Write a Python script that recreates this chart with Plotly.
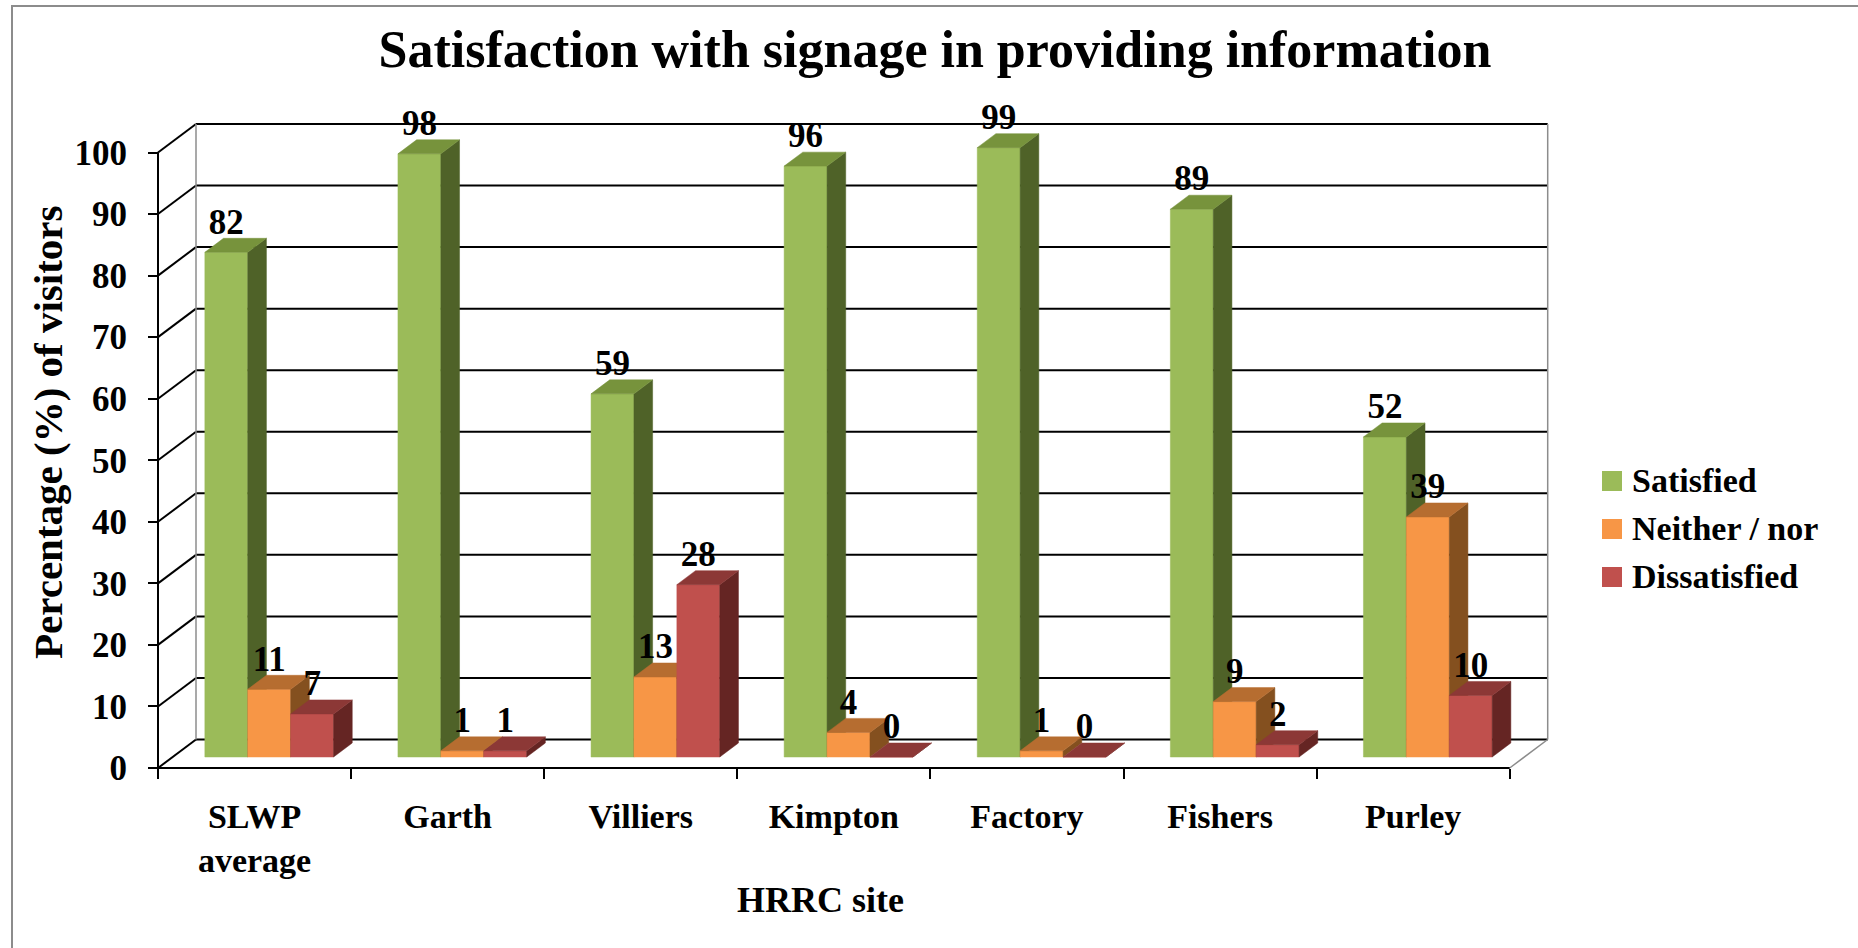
import plotly.graph_objects as go

# ---- data -------------------------------------------------------------
sites = ["SLWP<br>average", "Garth", "Villiers", "Kimpton", "Factory", "Fishers", "Purley"]
satisfied = [82, 98, 59, 96, 99, 89, 52]
neither_nor = [11, 1, 13, 4, 1, 9, 39]
dissatisfied = [7, 1, 28, 0, 0, 2, 10]
series_names = ["Satisfied", "Neither / nor", "Dissatisfied"]
y_tick_values = list(range(0, 101, 10))

# ---- styling ----------------------------------------------------------
FONT = "Liberation Serif"
face_colors = [  # front, top, side
    ("#9BBB59", "#77933C", "#4F6228"),
    ("#F79646", "#B66D30", "#84501F"),
    ("#C0504D", "#8C3836", "#652523"),
]

# ---- page geometry (pixels) -------------------------------------------
W, H = 1858, 948
PLOT_L, PLOT_R, PLOT_T, PLOT_B = 140, 1560, 110, 790
AXIS_X_PX, FLOOR_Y_PX = 158, 768     # front vertical axis / front floor edge
CAT_PX = 193.1                       # width of one category slot
UNIT_PX = 6.155                      # pixels per percentage point
LABEL_DROP_PX = 4                    # value labels sit this much lower than plotly's default

x_range = [-0.5 - (AXIS_X_PX - PLOT_L) / CAT_PX, -0.5 + (PLOT_R - AXIS_X_PX) / CAT_PX]
y_range = [-(PLOT_B - FLOOR_Y_PX) / UNIT_PX, (FLOOR_Y_PX - PLOT_T) / UNIT_PX]

# oblique depth of the floor/back wall, in data units
WALL_DX = 38 / CAT_PX
WALL_DY = 28.5 / UNIT_PX
# bars sit between these fractions of the wall depth
F0, F1 = 0.386, 0.877
BAR_W = 1 / 4.5                      # three bars + 150% gap per slot

n = len(sites)
left, right = -0.5, n - 0.5


def px_x(p):
    return (p - PLOT_L) / (PLOT_R - PLOT_L)


def px_y(p):
    return (PLOT_B - p) / (PLOT_B - PLOT_T)


def seg_trace(segs, color, width):
    xs, ys = [], []
    for (xa, ya), (xb, yb) in segs:
        xs += [xa, xb, None]
        ys += [ya, yb, None]
    return go.Scatter(x=xs, y=ys, mode="lines", line=dict(color=color, width=width),
                      hoverinfo="skip", showlegend=False)


fig = go.Figure()

# back wall grid and the diagonals that join it to the front axis
grid = [((left + WALL_DX, v + WALL_DY), (right + WALL_DX, v + WALL_DY)) for v in y_tick_values]
diag = [((left, v), (left + WALL_DX, v + WALL_DY)) for v in y_tick_values]
fig.add_trace(seg_trace(grid + diag, "#000000", 2))
# grey wall edges
edges = [
    ((left + WALL_DX, WALL_DY), (left + WALL_DX, 100 + WALL_DY)),
    ((right + WALL_DX, WALL_DY), (right + WALL_DX, 100 + WALL_DY)),
    ((right, 0), (right + WALL_DX, WALL_DY)),
]
fig.add_trace(seg_trace(edges, "#8C8C8C", 1.5))
# front axis and floor edge
fig.add_trace(seg_trace([((left, 0), (left, 100)), ((left, 0), (right, 0))], "#000000", 2))

# ---- 3-D bars -----------------------------------------------------------
ddx = WALL_DX * (F1 - F0)
ddy = WALL_DY * (F1 - F0)
all_series = [satisfied, neither_nor, dissatisfied]
label_traces = []
for j, values in enumerate(all_series):
    polys = {"front": ([], []), "side": ([], []), "top": ([], [])}
    lx, ly = [], []
    for i, v in enumerate(values):
        x0 = i - 1.5 * BAR_W + j * BAR_W + WALL_DX * F0
        x1 = x0 + BAR_W
        b = WALL_DY * F0
        t = b + v
        faces = {
            "front": [(x0, b), (x1, b), (x1, t), (x0, t)],
            "side": [(x1, b), (x1 + ddx, b + ddy), (x1 + ddx, t + ddy), (x1, t)],
            "top": [(x0, t), (x1, t), (x1 + ddx, t + ddy), (x0 + ddx, t + ddy)],
        }
        for k, pts in faces.items():
            xs, ys = polys[k]
            xs += [p[0] for p in pts] + [pts[0][0], None]
            ys += [p[1] for p in pts] + [pts[0][1], None]
        lx.append(x0 + BAR_W / 2)
        ly.append(t + ddy - LABEL_DROP_PX / UNIT_PX)
    front_c, top_c, side_c = face_colors[j]
    for k, col in (("front", front_c), ("side", side_c), ("top", top_c)):
        xs, ys = polys[k]
        fig.add_trace(go.Scatter(x=xs, y=ys, mode="lines", fill="toself", fillcolor=col,
                                 line=dict(color=col, width=0.5), name=series_names[j],
                                 hoverinfo="skip", showlegend=False))
    label_traces.append(go.Scatter(
        x=lx, y=ly, mode="text", text=[str(v) for v in values], textposition="top center",
        textfont=dict(family=FONT, size=35, color="#000000", weight="bold"),
        hoverinfo="skip", showlegend=False, cliponaxis=False))

for tr in label_traces:
    fig.add_trace(tr)

# ---- legend ---------------------------------------------------------------
shapes = [dict(type="rect", xref="paper", yref="paper",
               x0=px_x(12), y0=px_y(6), x1=px_x(1900), y1=px_y(1000),
               line=dict(color="#8C8C8C", width=2), fillcolor="rgba(0,0,0,0)", layer="below")]
annotations = []
for j, name in enumerate(series_names):
    cy = 481 + 48 * j
    shapes.append(dict(type="rect", xref="paper", yref="paper",
                       x0=px_x(1602), x1=px_x(1622), y0=px_y(cy + 10), y1=px_y(cy - 10),
                       line=dict(width=0), fillcolor=face_colors[j][0]))
    annotations.append(dict(xref="paper", yref="paper", x=px_x(1630), y=px_y(cy - 1),
                            xanchor="left", yanchor="middle", showarrow=False, text=name,
                            font=dict(family=FONT, size=34, color="#000000", weight="bold")))

# axis titles
annotations.append(dict(xref="paper", yref="paper", x=px_x(48), y=px_y(432), textangle=-90,
                        xanchor="center", yanchor="middle", showarrow=False,
                        text="Percentage (%) of visitors",
                        font=dict(family=FONT, size=41, color="#000000", weight="bold")))
annotations.append(dict(xref="paper", yref="paper", x=px_x(820), y=px_y(900),
                        xanchor="center", yanchor="middle", showarrow=False, text="HRRC site",
                        font=dict(family=FONT, size=36, color="#000000", weight="bold")))

fig.update_layout(
    width=W, height=H, autosize=False,
    margin=dict(l=PLOT_L, r=W - PLOT_R, t=PLOT_T, b=H - PLOT_B, autoexpand=False),
    paper_bgcolor="white", plot_bgcolor="white",
    title=dict(text="Satisfaction with signage in providing information",
               x=935 / W, xanchor="center", y=1 - 49 / H, yanchor="middle", yref="container",
               font=dict(family=FONT, size=52, color="#000000", weight="bold")),
    xaxis=dict(range=x_range, anchor="free", position=px_y(FLOOR_Y_PX),
               showgrid=False, zeroline=False, showline=False,
               tickmode="array", tickvals=list(range(n)), ticktext=sites, ticks="",
               ticklabelstandoff=25,
               tickfont=dict(family=FONT, size=34, color="#000000", weight="bold"),
               minor=dict(tickmode="array", tickvals=[k - 0.5 for k in range(n + 1)],
                          ticks="outside", ticklen=10, tickwidth=2, tickcolor="#000000",
                          showgrid=False)),
    yaxis=dict(range=y_range, anchor="free", position=px_x(AXIS_X_PX),
               showgrid=False, zeroline=False, showline=False,
               tickmode="array", tickvals=y_tick_values, ticks="outside", ticklen=10,
               tickwidth=2, tickcolor="#000000", ticklabelstandoff=14,
               tickfont=dict(family=FONT, size=35, color="#000000", weight="bold")),
    shapes=shapes, annotations=annotations, showlegend=False,
)

fig.write_html("out.html")
